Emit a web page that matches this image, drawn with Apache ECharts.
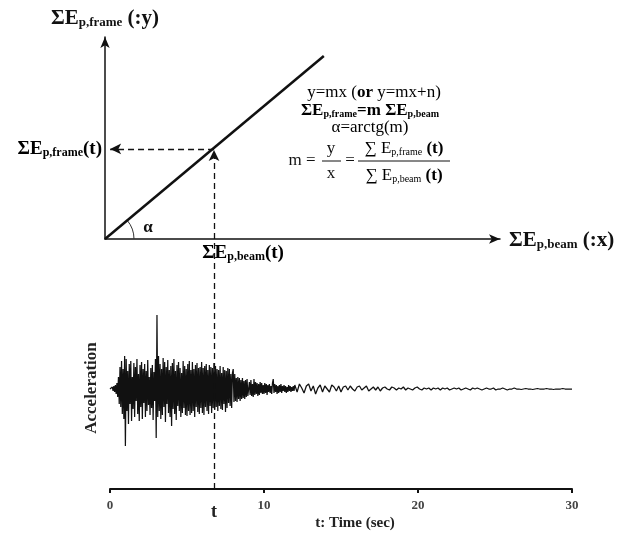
<!DOCTYPE html>
<html><head><meta charset="utf-8">
<script src="https://cdn.jsdelivr.net/npm/echarts@6/dist/echarts.min.js"></script>
<style>html,body{margin:0;padding:0;background:#fff}#c{width:629px;height:537px}</style>
</head><body><div id="c"></div>
<script>
// ---- data ----
const timeTicks = [0, 10, 20, 30];
const relLineBeam = [0, 55.4];      // x of the m-line (ΣEp,beam)
const relLineFrame = [0, 90.6];     // y of the m-line (ΣEp,frame)
const pointBeam = 27.6;             // ΣEp,beam(t)
const pointFrame = 44.6;            // ΣEp,frame(t)
const tMark = 6.75;                 // time t (sec)
const earlyStep = 0.05;             // sec, 0–12 s
const accelEarly = [
 0.00,0.01,-0.01,0.02,-0.02,0.03,-0.03,0.04,-0.05,0.06,-0.08,0.12,-0.15,0.22,-0.18,0.28,-0.25,0.20,-0.30,0.33,
 -0.57,0.30,-0.22,0.18,-0.35,0.25,-0.15,0.28,-0.32,0.12,-0.20,0.26,-0.28,0.22,-0.12,0.30,-0.25,0.15,-0.32,0.24,
 -0.18,0.27,-0.30,0.20,-0.14,0.25,-0.28,0.18,-0.22,0.29,-0.16,0.12,-0.26,0.21,-0.19,0.24,-0.31,0.17,-0.12,0.30,
 -0.49,0.74,-0.28,0.33,-0.22,0.25,-0.30,0.20,-0.26,0.31,-0.18,0.27,-0.33,0.22,-0.15,0.29,-0.24,0.19,-0.28,0.23,
 -0.37,0.26,-0.20,0.30,-0.25,0.18,-0.31,0.24,-0.17,0.27,-0.22,0.21,-0.28,0.16,-0.24,0.28,-0.19,0.23,-0.26,0.20,
 -0.27,0.25,-0.22,0.28,-0.26,0.19,-0.24,0.27,-0.22,0.20,-0.28,0.24,-0.18,0.26,-0.23,0.21,-0.25,0.22,-0.19,0.27,
 -0.24,0.21,-0.26,0.23,-0.18,0.25,-0.22,0.19,-0.25,0.24,-0.17,0.22,-0.24,0.21,-0.19,0.26,-0.21,0.23,-0.18,0.20,
 -0.22,0.19,-0.17,0.23,-0.20,0.16,-0.21,0.22,-0.15,0.19,-0.23,0.18,-0.19,0.21,-0.14,0.20,-0.17,0.15,-0.19,0.16,
 0.20,-0.13,0.15,-0.12,0.11,-0.13,0.12,-0.10,0.11,-0.12,0.09,-0.10,0.11,-0.09,0.08,-0.10,0.09,-0.08,0.10,-0.07,
 -0.08,0.07,-0.06,0.09,-0.07,0.05,-0.08,0.10,-0.06,0.07,-0.05,0.06,-0.07,0.05,-0.06,0.07,-0.04,0.06,-0.05,0.04,
 -0.05,0.06,-0.04,0.05,-0.06,0.04,-0.03,0.05,-0.04,0.03,-0.05,0.06,0.10,-0.04,0.05,-0.03,0.04,-0.05,0.03,-0.04,
 0.04,-0.03,0.05,-0.04,0.03,-0.02,0.04,-0.03,0.03,-0.04,0.02,-0.03,0.04,-0.02,0.03,-0.03,0.02,-0.02,0.03,-0.02
];
const lateStart = 12;               // sec
const lateStep = 0.15;              // sec, 12–30 s
const accelLate = [
 0.04,-0.03,0.05,0.01,-0.04,0.03,0.05,-0.02,0.03,-0.05,0.01,0.04,-0.03,0.03,0.00,-0.03,0.04,0.02,-0.02,0.03,
 -0.03,0.02,0.03,-0.01,0.03,0.00,-0.02,0.02,0.03,-0.01,0.01,0.03,-0.02,0.00,0.02,-0.01,0.02,-0.02,0.01,0.02,
 0.00,-0.01,0.02,0.01,-0.01,0.01,0.00,0.02,-0.01,0.01,0.00,-0.01,0.01,0.02,0.00,-0.01,0.01,0.00,0.01,-0.01,
 0.01,0.00,0.01,-0.01,0.01,0.00,0.01,-0.01,0.00,0.01,0.00,0.01,-0.01,0.00,0.01,0.00,-0.01,0.01,0.00,0.01,
 0.00,-0.01,0.00,0.01,0.00,0.00,0.01,-0.01,0.00,0.00,0.01,0.00,-0.01,0.00,0.00,0.01,0.00,0.00,-0.005,0.00,
 0.005,0.00,0.00,-0.005,0.00,0.005,0.00,0.00,0.00,0.005,0.00,0.00,-0.005,0.00,0.00,0.00,0.005,0.00,0.00,0.00,
 0.00
];

// ---- build ----
const signal = [];
accelEarly.forEach((v, i) => signal.push([+(i * earlyStep).toFixed(3), v]));
accelLate.forEach((v, i) => signal.push([+(lateStart + i * lateStep).toFixed(3), v]));

const SERIF = "'Liberation Serif','DejaVu Serif',serif";
const INK = '#111';
function rich(big, small) {
  return {
    b: {fontFamily: SERIF, fontWeight: 'bold', fontSize: big, color: INK, lineHeight: big + 2, verticalAlign: 'bottom'},
    r: {fontFamily: SERIF, fontWeight: 'normal', fontSize: big, color: INK, lineHeight: big + 2, verticalAlign: 'bottom'},
    s: {fontFamily: SERIF, fontWeight: 'bold', fontSize: small, color: INK, lineHeight: small + 1, verticalAlign: 'bottom'},
    sn: {fontFamily: SERIF, fontWeight: 'normal', fontSize: small, color: INK, lineHeight: small + 1, verticalAlign: 'bottom'}
  };
}

const chart = echarts.init(document.getElementById('c'), null, {renderer: 'canvas'});
chart.setOption({
  animation: false,
  backgroundColor: '#fff',
  grid: [
    {left: 105, top: 37, width: 395, height: 202},
    {left: 110, top: 240, width: 462, height: 249}
  ],
  xAxis: [
    {gridIndex: 0, type: 'value', min: 0, max: 100,
     axisLine: {show: true, lineStyle: {color: INK, width: 1.5}, symbol: ['none', 'arrow'], symbolSize: [7, 11]},
     axisTick: {show: false}, axisLabel: {show: false}, splitLine: {show: false},
     name: '{b|ΣE}{s|p,beam}{b| (:x)}', nameLocation: 'end', nameGap: 9,
     nameTextStyle: {rich: rich(21, 13), verticalAlign: 'middle', padding: [2, 0, 0, 0]}},
    {gridIndex: 1, type: 'value', min: 0, max: 30, interval: 10,
     axisLine: {show: true, onZero: false, lineStyle: {color: INK, width: 2}},
     axisTick: {show: true, length: 4, lineStyle: {color: INK, width: 2}},
     axisLabel: {show: true, margin: 10, fontFamily: SERIF, fontWeight: 'bold', fontSize: 13, color: '#444'},
     splitLine: {show: false},
     name: 't: Time (sec)', nameLocation: 'middle', nameGap: 27,
     nameTextStyle: {fontFamily: SERIF, fontWeight: 'bold', fontSize: 15, color: '#222', padding: [0, 0, 0, 28]}}
  ],
  yAxis: [
    {gridIndex: 0, type: 'value', min: 0, max: 100,
     axisLine: {show: true, lineStyle: {color: INK, width: 1.5}, symbol: ['none', 'arrow'], symbolSize: [7, 11]},
     axisTick: {show: false}, axisLabel: {show: false}, splitLine: {show: false},
     name: '{b|ΣE}{s|p,frame}{b| (:y)}', nameLocation: 'end', nameGap: 8,
     nameTextStyle: {rich: rich(21, 13), align: 'center'}},
    {gridIndex: 1, type: 'value', min: -1, max: 1.49,
     axisLine: {show: false}, axisTick: {show: false}, axisLabel: {show: false}, splitLine: {show: false}}
  ],
  series: [
    {type: 'line', xAxisIndex: 0, yAxisIndex: 0, silent: true, showSymbol: false, symbol: 'none',
     data: relLineBeam.map((x, i) => [x, relLineFrame[i]]),
     lineStyle: {color: INK, width: 2.5},
     markLine: {silent: true, animation: false, label: {show: false},
       lineStyle: {color: INK, width: 1.3, type: [6, 4]},
       data: [
         [{coord: [pointBeam, pointFrame], symbol: 'none'}, {coord: [1.3, pointFrame], symbol: 'arrow', symbolSize: [8, 11]}],
         [{coord: [pointBeam, 0], symbol: 'none'}, {coord: [pointBeam, pointFrame - 0.5], symbol: 'arrow', symbolSize: [8, 11]}]
       ]}},
    {type: 'custom', xAxisIndex: 0, yAxisIndex: 0, silent: true, data: [[0, 0]],
     renderItem: function (params, api) {
       const o = api.coord([0, 0]);
       const e = api.coord([relLineBeam[1], relLineFrame[1]]);
       const ang = Math.atan2(e[1] - o[1], e[0] - o[0]);
       return {type: 'arc', shape: {cx: o[0], cy: o[1], r: 29, startAngle: ang, endAngle: 0, clockwise: true},
               style: {stroke: '#333', fill: null, lineWidth: 1}};
     }},
    {type: 'line', xAxisIndex: 1, yAxisIndex: 1, silent: true, showSymbol: false, symbol: 'none',
     data: signal, lineStyle: {color: INK, width: 1.25},
     markLine: {silent: true, animation: false, symbol: ['none', 'none'],
       lineStyle: {color: INK, width: 1.3, type: [6, 4]},
       label: {show: true, position: 'start', formatter: 't', distance: 14,
               fontFamily: SERIF, fontWeight: 'bold', fontSize: 18, color: '#222'},
       data: [{xAxis: tMark}]}}
  ],
  graphic: [
    {type: 'text', x: 92, y: 388, rotation: Math.PI / 2, silent: true,
     style: {text: 'Acceleration', fontFamily: SERIF, fontWeight: 'bold', fontSize: 17, fill: '#222', align: 'center', verticalAlign: 'middle'}},
    {type: 'text', x: 102, y: 148, silent: true,
     style: {text: '{b|ΣE}{s|p,frame}{b|(t)}', rich: rich(19, 12), align: 'right', verticalAlign: 'middle'}},
    {type: 'text', x: 243, y: 252, silent: true,
     style: {text: '{b|ΣE}{s|p,beam}{b|(t)}', rich: rich(19, 12), align: 'center', verticalAlign: 'middle'}},
    {type: 'text', x: 148, y: 228, silent: true,
     style: {text: 'α', fontFamily: SERIF, fontWeight: 'bold', fontSize: 17, fill: INK, align: 'center', verticalAlign: 'middle'}},
    {type: 'text', x: 374, y: 92, silent: true,
     style: {text: '{r|y=mx (}{b|or}{r| y=mx+n)}', rich: rich(17, 10), align: 'center', verticalAlign: 'middle'}},
    {type: 'text', x: 370, y: 110, silent: true,
     style: {text: '{b|ΣE}{s|p,frame}{b|=m ΣE}{s|p,beam}', rich: rich(17, 10), align: 'center', verticalAlign: 'middle'}},
    {type: 'text', x: 370, y: 127, silent: true,
     style: {text: '{r|α=arctg(m)}', rich: rich(17, 10), align: 'center', verticalAlign: 'middle'}},
    {type: 'text', x: 302, y: 161, silent: true,
     style: {text: 'm =', fontFamily: SERIF, fontSize: 17, fill: INK, align: 'center', verticalAlign: 'middle'}},
    {type: 'text', x: 331, y: 149, silent: true,
     style: {text: 'y', fontFamily: SERIF, fontSize: 17, fill: INK, align: 'center', verticalAlign: 'middle'}},
    {type: 'text', x: 331, y: 174, silent: true,
     style: {text: 'x', fontFamily: SERIF, fontSize: 17, fill: INK, align: 'center', verticalAlign: 'middle'}},
    {type: 'line', silent: true, shape: {x1: 322, y1: 161, x2: 341, y2: 161}, style: {stroke: INK, lineWidth: 1}},
    {type: 'text', x: 350, y: 161, silent: true,
     style: {text: '=', fontFamily: SERIF, fontSize: 17, fill: INK, align: 'center', verticalAlign: 'middle'}},
    {type: 'text', x: 404, y: 148, silent: true,
     style: {text: '{r|∑ E}{sn|p,frame}{b| (t)}', rich: rich(17, 10), align: 'center', verticalAlign: 'middle'}},
    {type: 'text', x: 404, y: 175, silent: true,
     style: {text: '{r|∑ E}{sn|p,beam}{b| (t)}', rich: rich(17, 10), align: 'center', verticalAlign: 'middle'}},
    {type: 'line', silent: true, shape: {x1: 358, y1: 161, x2: 450, y2: 161}, style: {stroke: INK, lineWidth: 1}}
  ]
});
</script>
</body></html>
